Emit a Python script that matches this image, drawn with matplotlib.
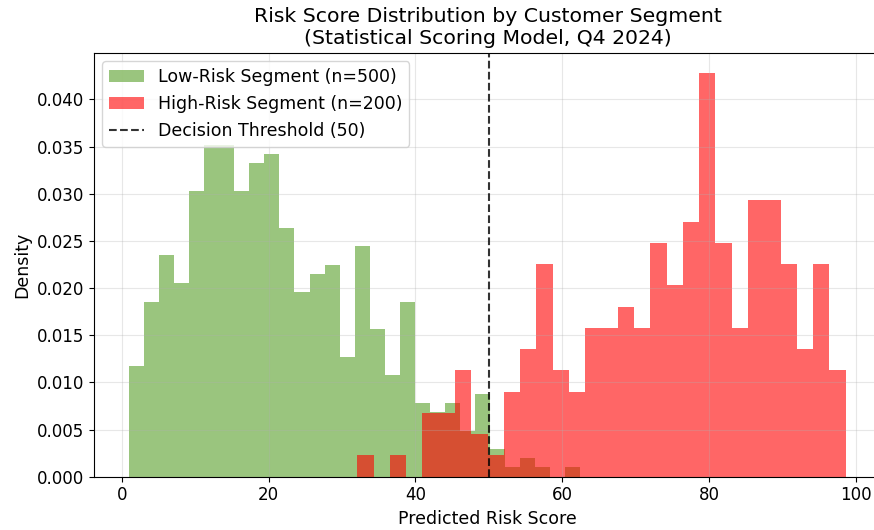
import matplotlib
matplotlib.use("Agg")
from matplotlib import pyplot as plt
import numpy as np

# counts per bin (density is computed by hist)
low_counts = [12, 19, 24, 21, 31, 36, 36, 31, 34, 35, 27, 20, 22, 23, 13,
              25, 16, 11, 19, 8, 7, 8, 5, 9, 3, 1, 2, 1, 0, 1]
low_range = (1.0, 62.4)

high_counts = [1, 0, 1, 0, 3, 3, 5, 2, 1, 4, 6, 10, 5, 4, 7,
               7, 8, 7, 11, 9, 12, 19, 11, 7, 13, 13, 10, 6, 10, 5]
high_range = (32.07, 98.64)

threshold = 50
low_label = "Low-Risk Segment (n=500)"
high_label = "High-Risk Segment (n=200)"
thr_label = "Decision Threshold (50)"


def edges_and_centers(counts, rng):
    edges = np.linspace(rng[0], rng[1], len(counts) + 1)
    return edges, (edges[:-1] + edges[1:]) / 2


fig = plt.figure(figsize=(8.74, 5.30), dpi=100)
ax = fig.add_axes([93.5 / 874, 53.3 / 530, 788 / 874, 424 / 530])

e, c = edges_and_centers(low_counts, low_range)
ax.hist(c, bins=e, weights=low_counts, density=True, color="#70AD47", alpha=0.7,
        label=low_label)

e, c = edges_and_centers(high_counts, high_range)
ax.hist(c, bins=e, weights=high_counts, density=True, color="#FF0000", alpha=0.6,
        label=high_label)

ax.axvline(threshold, color="black", linestyle="--", linewidth=1.5, alpha=0.8, label=thr_label)

ax.set_xlabel("Predicted Risk Score", fontsize=12.5)
ax.set_ylabel("Density", fontsize=12.5)
ax.set_title("Risk Score Distribution by Customer Segment\n(Statistical Scoring Model, Q4 2024)",
             fontsize=14.7)
ax.tick_params(labelsize=12)
ax.set_yticks(np.arange(0, 0.0401, 0.005))
ax.grid(True, alpha=0.3)
ax.legend(loc="upper left", fontsize=12.5)

fig.savefig("out.png", dpi=100)
